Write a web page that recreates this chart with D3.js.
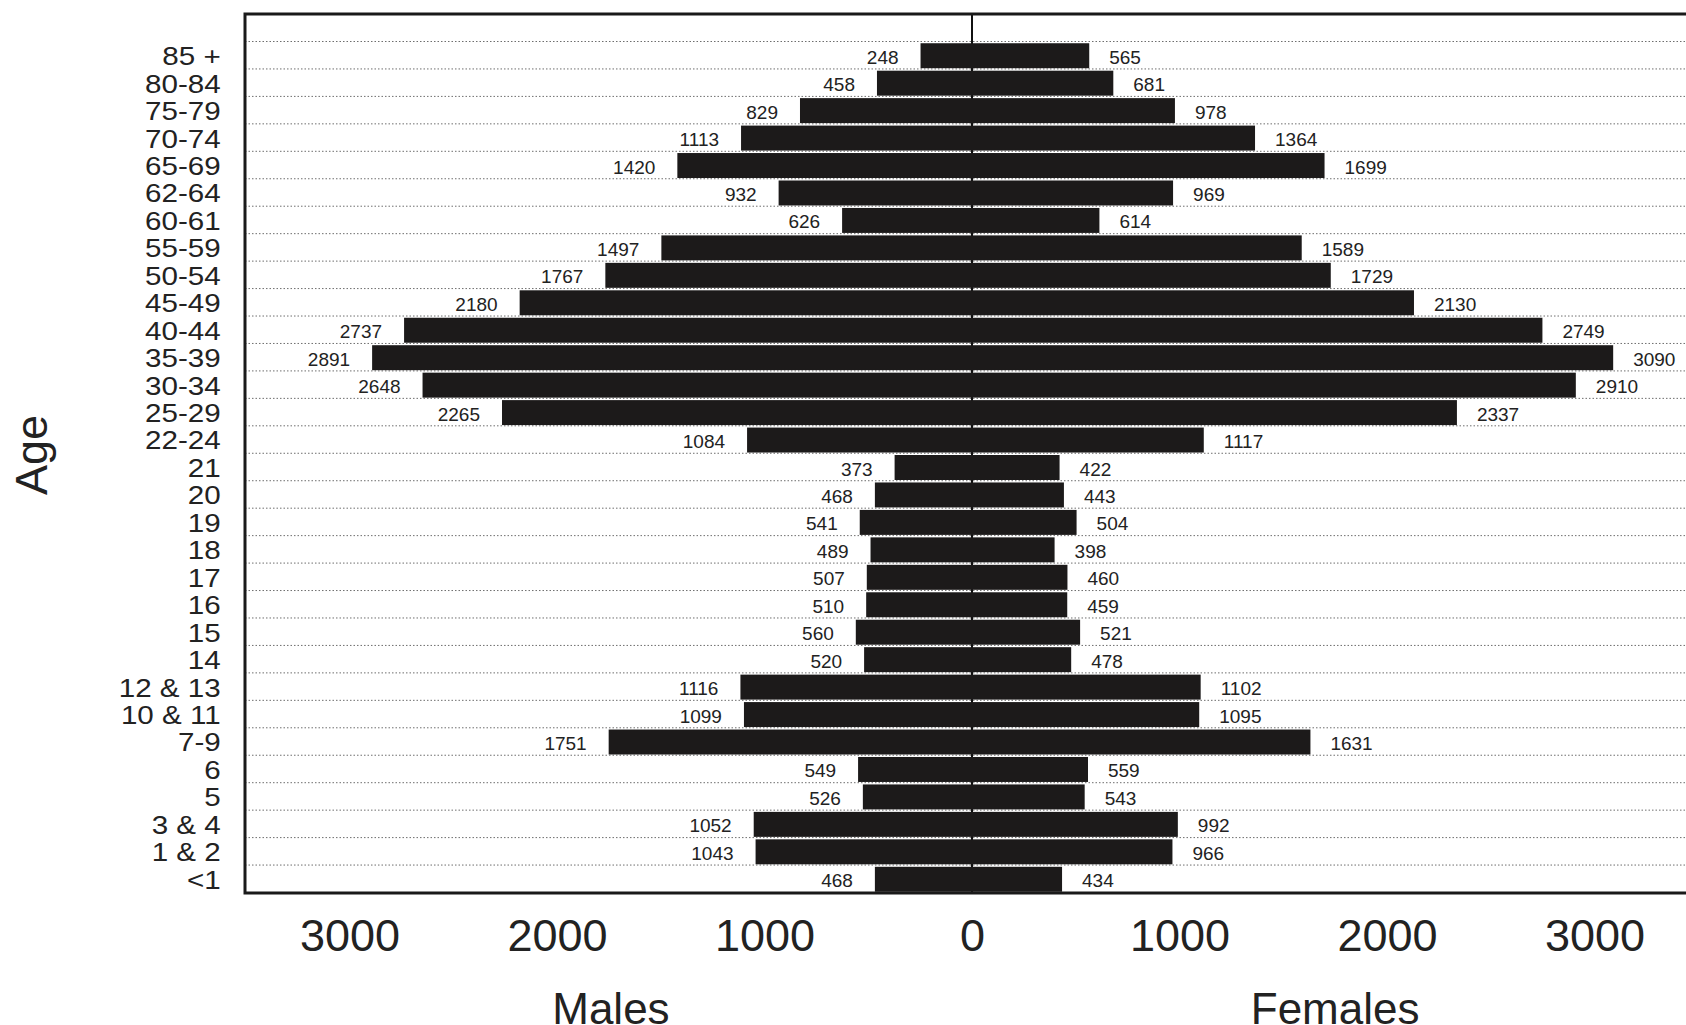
<!DOCTYPE html>
<html>
<head>
<meta charset="utf-8">
<script src="https://cdn.jsdelivr.net/npm/d3@7"></script>
<style>
    html, body { margin: 0; padding: 0; background: #fff; overflow: hidden; }
    svg { display: block; font-family: "Liberation Sans", Arial, Helvetica, sans-serif; }
</style>
</head>
<body>
<div id="chart"></div>
<script>
// age groups, top to bottom
const ageGroups = ["85 +", "80-84", "75-79", "70-74", "65-69", "62-64", "60-61", "55-59", "50-54",
    "45-49", "40-44", "35-39", "30-34", "25-29", "22-24", "21", "20", "19", "18", "17", "16", "15",
    "14", "12 & 13", "10 & 11", "7-9", "6", "5", "3 & 4", "1 & 2", "<1"];

const males = [248, 458, 829, 1113, 1420, 932, 626, 1497, 1767, 2180, 2737, 2891, 2648, 2265, 1084,
    373, 468, 541, 489, 507, 510, 560, 520, 1116, 1099, 1751, 549, 526, 1052, 1043, 468];

const females = [565, 681, 978, 1364, 1699, 969, 614, 1589, 1729, 2130, 2749, 3090, 2910, 2337, 1117,
    422, 443, 504, 398, 460, 459, 521, 478, 1102, 1095, 1631, 559, 543, 992, 966, 434];

const xTicks = [-3000, -2000, -1000, 0, 1000, 2000, 3000];

document.addEventListener("DOMContentLoaded", function () {
    const width = 1686, height = 1025;
    const frame = { left: 245, top: 14, bottom: 893 };

    const rows = ageGroups.map((g, i) => ({ group: g, m: males[i], f: females[i] }));

    const svg = d3.select("#chart")
        .append("svg")
        .attr("width", width)
        .attr("height", height);

    // males on the left as negative values
    const x = d3.scaleLinear()
        .domain([-3000, 3000])
        .range([349.5, 1594.5]);

    const y = d3.scaleBand()
        .domain(ageGroups)
        .range([42, frame.bottom])
        .paddingInner(0.09)
        .paddingOuter(0.045);

    const rowTop = d => y(d) - y.step() * y.paddingInner() / 2;

    // dotted grid lines between rows
    svg.selectAll(".grid")
        .data(ageGroups)
        .enter()
        .append("line")
        .attr("class", "grid")
        .attr("x1", frame.left)
        .attr("x2", width)
        .attr("y1", d => rowTop(d) - 0.5)
        .attr("y2", d => rowTop(d) - 0.5)
        .attr("stroke", "#6e6e6e")
        .attr("stroke-width", 1)
        .attr("stroke-dasharray", "1.5,2");

    // centre line
    svg.append("line")
        .attr("x1", x(0))
        .attr("x2", x(0))
        .attr("y1", frame.top)
        .attr("y2", frame.bottom)
        .attr("stroke", "#111")
        .attr("stroke-width", 2);

    svg.selectAll(".bar-m")
        .data(rows)
        .enter()
        .append("rect")
        .attr("class", "bar-m")
        .attr("x", d => x(-d.m))
        .attr("y", d => y(d.group))
        .attr("width", d => x(0) - x(-d.m))
        .attr("height", y.bandwidth())
        .attr("fill", "#1c1a1a");

    svg.selectAll(".bar-f")
        .data(rows)
        .enter()
        .append("rect")
        .attr("class", "bar-f")
        .attr("x", x(0))
        .attr("y", d => y(d.group))
        .attr("width", d => x(d.f) - x(0))
        .attr("height", y.bandwidth())
        .attr("fill", "#1c1a1a");

    // value labels
    svg.selectAll(".lab-m")
        .data(rows)
        .enter()
        .append("text")
        .attr("class", "lab-m")
        .attr("x", d => x(-d.m) - 22)
        .attr("y", d => y(d.group) + y.bandwidth() / 2 + 8)
        .attr("text-anchor", "end")
        .style("font-size", "19px")
        .style("fill", "#222")
        .text(d => d.m);

    svg.selectAll(".lab-f")
        .data(rows)
        .enter()
        .append("text")
        .attr("class", "lab-f")
        .attr("x", d => x(d.f) + 20)
        .attr("y", d => y(d.group) + y.bandwidth() / 2 + 8)
        .attr("text-anchor", "start")
        .style("font-size", "19px")
        .style("fill", "#222")
        .text(d => d.f);

    // frame (right side runs off the page)
    svg.append("path")
        .attr("d", `M${width + 10},${frame.top}H${frame.left}V${frame.bottom}H${width + 10}`)
        .attr("fill", "none")
        .attr("stroke", "#1a1a1a")
        .attr("stroke-width", 3);

    // age labels, slightly widened like the scan
    const yAxis = svg.append("g")
        .attr("transform", `translate(${223},0)`)
        .call(d3.axisLeft(y).tickSize(0).tickPadding(2));
    yAxis.select(".domain").remove();
    yAxis.selectAll("text")
        .attr("dy", "0.37em")
        .attr("transform", "scale(1.16,1)")
        .style("font-size", "25.5px")
        .style("font-family", "'Liberation Sans', Arial, sans-serif")
        .attr("fill", "#222");

    // population axis
    const xAxis = svg.append("g")
        .attr("transform", `translate(0,${919})`)
        .call(d3.axisBottom(x).tickValues(xTicks).tickFormat(d => Math.abs(d)).tickSize(0).tickPadding(0));
    xAxis.select(".domain").remove();
    xAxis.selectAll("text")
        .style("font-size", "45px")
        .style("font-family", "'Liberation Sans', Arial, sans-serif")
        .attr("fill", "#222");

    svg.append("text")
        .attr("transform", "translate(47,455) rotate(-90)")
        .attr("text-anchor", "middle")
        .style("font-size", "45px")
        .style("fill", "#222")
        .text("Age");

    svg.append("text")
        .attr("x", x(-1740))
        .attr("y", 1024)
        .attr("text-anchor", "middle")
        .style("font-size", "44px")
        .style("fill", "#222")
        .text("Males");

    svg.append("text")
        .attr("x", x(1750))
        .attr("y", 1024)
        .attr("text-anchor", "middle")
        .style("font-size", "44px")
        .style("fill", "#222")
        .text("Females");
});
</script>
</body>
</html>
